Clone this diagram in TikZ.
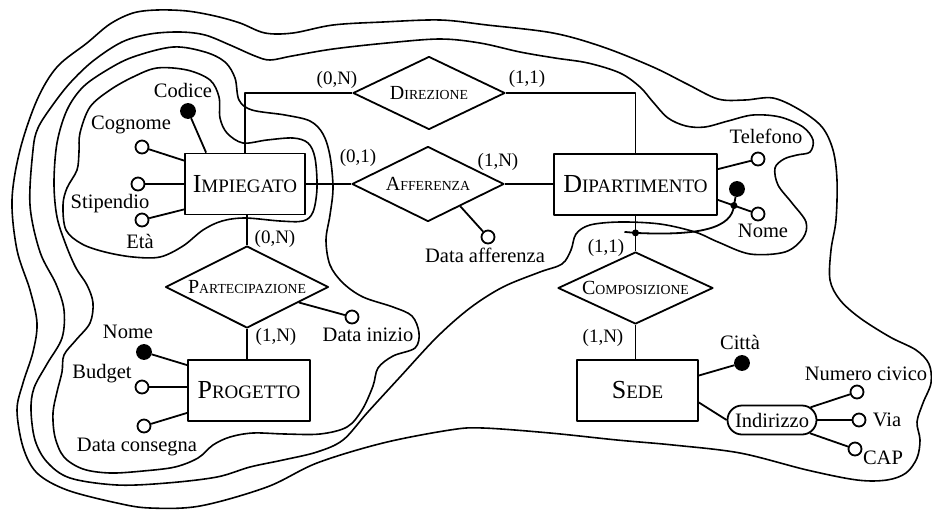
\documentclass[tikz,border=0pt]{standalone}
\usepackage{fontspec}
\setmainfont{Liberation Serif}
\usetikzlibrary{shapes.geometric,shapes.misc,calc}

% names of entities and relationships in small capitals
\newcommand\EntName[2]{{\fontsize{26}{30}\selectfont #1}{\fontsize{19}{22}\selectfont #2}}
\newcommand\RelName[2]{{\fontsize{20}{24}\selectfont #1}{\fontsize{13.8}{16}\selectfont #2}}

\begin{document}
\begin{tikzpicture}[x=1pt, y=-1pt, line width=1.8pt, line join=round,
  entity/.style={draw, rectangle, fill=white, inner sep=0pt, minimum height=61pt},
  relation/.style={draw, diamond, fill=white, inner sep=0pt},
  attr/.style={draw, circle, fill=white, inner sep=0pt, minimum size=13pt},
  keyattr/.style={draw, circle, fill=black, inner sep=0pt, minimum size=14pt},
  joint/.style={circle, fill=black, inner sep=0pt, minimum size=7pt},
  compound/.style={draw, rounded rectangle, fill=white, inner sep=0pt,
    minimum width=89pt, minimum height=29pt, font=\fontsize{20.5}{24}\selectfont},
  lbl/.style={inner sep=0pt, anchor=base, font=\fontsize{20.5}{24}\selectfont},
  card/.style={inner sep=0pt, anchor=base, font=\fontsize{19}{22}\selectfont},
  contour/.style={line width=1.6pt}]
\useasboundingbox (0,0) rectangle (932,512);

% ---- nested contours ----
\draw[contour] plot[smooth cycle, tension=0.55] coordinates {
 (12,200) (20,150) (37,100) (57,67) (87,43) (110,24) (133,13) (157,10) (187,11)
 (215,16) (240,23) (265,33) (293,33) (333,25) (383,22) (440,20) (487,25) (553,33)
 (603,47) (653,67) (687,84) (718,99) (745,100) (773,98) (800,110) (822,127)
 (833,150) (837,180) (836,220) (831,250) (830,280) (840,300) (860,318) (890,337)
 (916,350) (929,364) (931,383) (923,403) (917,422) (920,440) (917,458) (906,473)
 (887,480) (857,480) (807,470) (740,453) (673,445) (617,440) (550,433) (483,428)
 (450,430) (383,443) (317,463) (267,487) (200,506) (150,508) (117,503) (67,490)
 (37,473) (23,447) (17,410) (23,383) (33,352) (37,323) (30,290) (17,250)};

\draw[contour] plot[smooth cycle, tension=0.55] coordinates {
 (33,150) (38,128) (52,106) (70,83) (93,61) (122,42) (150,34) (180,32) (205,35)
 (230,45) (255,56) (270,60) (292,56) (333,49) (387,43) (440,39) (480,43) (520,52)
 (555,58) (588,63) (620,73) (640,87) (653,102) (668,118) (686,126) (705,127)
 (728,121) (753,115) (780,117) (803,127) (813,140) (810,152) (797,155) (784,159)
 (775,168) (778,185) (792,203) (806,222) (803,238) (785,252) (750,254) (718,242)
 (695,232) (660,224) (620,222) (590,225) (576,234) (571,250) (562,264) (540,272)
 (503,287) (470,308) (437,337) (400,377) (367,413) (343,440) (317,452) (283,460)
 (250,467) (217,477) (167,483) (117,485) (70,478) (47,462) (35,440) (31,410)
 (34,388) (47,364) (62,338) (64,310) (56,284) (40,252) (30,205)};

\draw[contour] plot[smooth cycle, tension=0.55] coordinates {
 (57,143) (67,110) (83,87) (107,70) (133,57) (173,47) (205,52) (225,62) (235,78)
 (239,100) (252,110) (285,115) (310,121) (323,134) (330,156) (333,188) (330,215)
 (326,240) (330,265) (343,283) (363,297) (393,307) (412,316) (419,333) (415,348)
 (393,356) (378,368) (373,386) (362,410) (347,427) (320,434) (285,434) (253,433)
 (230,437) (213,445) (198,458) (175,467) (143,471) (110,473) (83,469) (64,457)
 (55,437) (53,413) (57,392) (62,372) (64,355) (76,340) (90,323) (93,303) (87,285)
 (76,268) (66,245) (57,217) (54,183)};

\draw[contour] plot[smooth cycle, tension=0.55] coordinates {
 (80,133) (90,107) (110,90) (133,77) (157,68) (187,70) (210,80) (219,97) (220,118)
 (227,133) (243,143) (267,140) (293,138) (308,143) (315,158) (317,188) (313,212)
 (303,221) (280,221) (245,218) (222,221) (203,230) (183,246) (160,257) (133,257)
 (105,252) (82,244) (66,230) (63,205) (67,188) (77,170) (79,152)};

% ---- entities ----
\node[entity, minimum width=120pt] (imp)  at (245,184)   {\EntName{I}{MPIEGATO}};
\node[entity, minimum width=163pt] (dip)  at (635.5,184.5) {\EntName{D}{IPARTIMENTO}};
\node[entity, minimum width=122pt] (prog) at (249,390.5) {\EntName{P}{ROGETTO}};
\node[entity, minimum width=121pt] (sede) at (637.5,390.5) {\EntName{S}{EDE}};

% ---- relationships ----
\node[relation, shape aspect=2.08, minimum width=152pt, minimum height=73pt] (dir)  at (429,93)    {\RelName{D}{IREZIONE}};
\node[relation, shape aspect=2.03, minimum width=152pt, minimum height=75pt] (aff)  at (428,184)   {\RelName{A}{FFERENZA}};
\node[relation, shape aspect=1.99, minimum width=163pt, minimum height=82pt] (part) at (247,287)   {\RelName{P}{ARTECIPAZIONE}};
\node[relation, shape aspect=2.15, minimum width=155pt, minimum height=72pt] (comp) at (635.5,288) {\RelName{C}{OMPOSIZIONE}};

% ---- links between entities and relationships ----
\draw (imp.north) |- (dir.west);
\draw (dir.east) -| (dip.north);
\draw (imp.east) -- (aff.west);
\draw (aff.east) -- (aff.east -| dip.west);
\draw (part.north) -- (part.north |- imp.south);
\draw (part.south) -- (part.south |- prog.north);
\draw (dip.south) -- (comp.north);
\draw (comp.south) -- (comp.south |- sede.north);

% ---- cardinalities ----
\node[card] (c1) at (337,84)  {(0,N)};
\node[card] (c2) at (527,83)  {(1,1)};
\node[card] (c3) at (358,162) {(0,1)};
\node[card] (c4) at (498,166) {(1,N)};
\node[card] (c5) at (275,243) {(0,N)};
\node[card] (c6) at (276,341) {(1,N)};
\node[card] (c7) at (606,252) {(1,1)};
\node[card] (c8) at (603,342) {(1,N)};

% ---- attributes of IMPIEGATO ----
\node[keyattr] (codice) at (188,111) {};
\node[attr] (cognome) at (142,147) {};
\node[attr] (stip) at (138,184) {};
\node[attr] (eta) at (142,220) {};
\draw (codice) -- ([xshift=22pt]imp.north west);
\draw (cognome) -- ([yshift=-8pt]imp.north west);
\draw (stip) -- (imp.west);
\draw (eta) -- ([yshift=6pt]imp.south west);
\node[lbl] at (183,97)  {Codice};
\node[lbl] at (131,129) {Cognome};
\node[lbl] at (110,208) {Stipendio};
\node[lbl] at (140,248) {Età};

% ---- attribute of AFFERENZA ----
\coordinate (affa) at ($(aff.east)!0.58!(aff.south)$);
\node[attr] (dataaff) at (488,237) {};
\draw (affa) -- (dataaff);
\node[lbl] at (485,262) {Data afferenza};

% ---- attributes of DIPARTIMENTO ----
\coordinate (dipt) at ([yshift=-16pt]dip.north east);
\coordinate (dipn) at ([yshift=16pt]dip.south east);
\node[attr] (tel) at (758,159) {};
\node[attr] (nomed) at (758,214) {};
\draw (dipt) -- (tel);
\draw (dipn) -- (nomed);
\node[lbl] at (766,143) {Telefono};
\node[lbl] at (763,237) {Nome};

% external identifier: Nome together with COMPOSIZIONE
\coordinate (idj) at ($(dipn)!0.4!(nomed.center)$);
\coordinate (idk) at ($(dip.south)+(0,17)$);
\coordinate (idend) at ([xshift=-11pt, yshift=1pt]idk);
\node[keyattr] (idkey) at (737,189) {};
\draw (idkey) -- (idj);
\draw (idj) .. controls (732,228) and (700,236) .. (idk) -- (idend);
\node[joint] (jd1) at (idj) {};
\node[joint] (jd2) at (idk) {};

% ---- attribute of PARTECIPAZIONE ----
\coordinate (parta) at ($(part.east)!0.37!(part.south)$);
\node[attr] (datainizio) at (352,317) {};
\draw (parta) -- (datainizio);
\node[lbl] at (368,341) {Data inizio};

% ---- attributes of PROGETTO ----
\node[keyattr] (nomep) at (144,352) {};
\node[attr] (budget) at (142,387) {};
\node[attr] (consegna) at (144,426) {};
\draw (nomep) -- ([yshift=-6pt]prog.north west);
\draw (budget) -- (budget -| prog.west);
\draw (consegna) -- ([yshift=9pt]prog.south west);
\node[lbl] at (128,338) {Nome};
\node[lbl] at (102,378) {Budget};
\node[lbl] at (137,451) {Data consegna};

% ---- attributes of SEDE ----
\node[keyattr] (citta) at (742,363) {};
\draw ([yshift=15pt]sede.east) -- (citta);
\node[lbl] at (740,349) {Città};
\node[compound] (ind) at (772,420) {Indirizzo};
\draw ([yshift=-12pt]sede.east) -- (ind.west);
\node[attr] (numciv) at (857,392) {};
\node[attr] (via) at (859,420) {};
\node[attr] (cap) at (855,449) {};
\draw (ind) -- (numciv);
\draw (ind.east) -- (via);
\draw (ind) -- (cap);
\node[lbl] at (866,380) {Numero civico};
\node[lbl] at (887,426) {Via};
\node[lbl] at (883,464) {CAP};
\end{tikzpicture}
\end{document}
